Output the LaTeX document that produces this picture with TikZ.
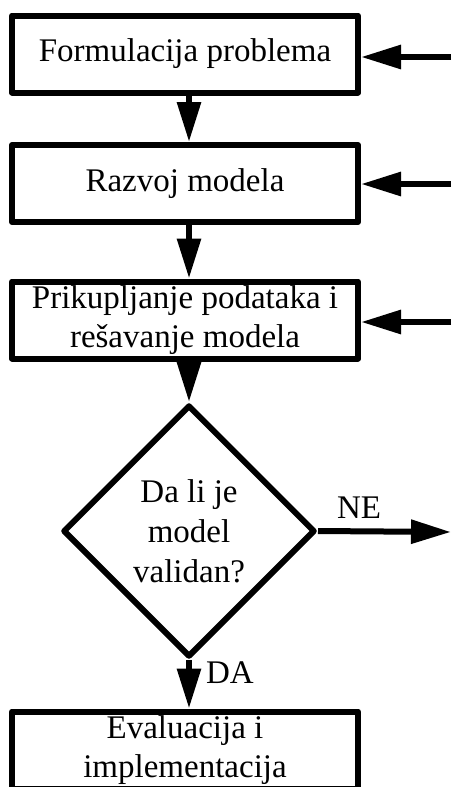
\documentclass[tikz,border=0pt]{standalone}
\usepackage{fontspec}
\setmainfont{Liberation Serif}
\usetikzlibrary{shapes.geometric,arrows.meta,calc}
\tikzset{
  box/.style={draw, line width=6pt, line join=round, minimum width=346pt,
    minimum height=77pt, inner sep=0pt, align=center,
    font=\fontsize{33}{39}\selectfont},
  decision/.style={draw, diamond, line width=6pt, line join=round,
    minimum width=252pt, minimum height=252pt, inner sep=0pt, align=center,
    font=\fontsize{33}{40}\selectfont},
  lbl/.style={inner sep=0pt, font=\fontsize{33}{39}\selectfont},
  arr/.style={line width=6pt, -{Triangle[length=40pt,width=23pt]}}
}
\begin{document}
\begin{tikzpicture}[x=1pt,y=-1pt]
    \useasboundingbox (0,0) rectangle (451,787);
    \clip (0,0) rectangle (451,787);
    \node [box] (formul) at (185,54) {Formulacija problema};
    \node [box] (razvoj) at (185,183.5) {Razvoj modela};
    \node [box] (prikup) at (185,320) {Prikupljanje podataka i\\re\v{s}avanje modela};
    \node [decision] (valid) at (189,531) {Da li je\\model\\validan?};
    \node [box] (eval) at (185,750) {Evaluacija i\\implementacija};
    \node [lbl] (ne) at (359,508) {NE};
    \node [lbl] (da) at (230,673) {DA};
    \coordinate (in1) at (451,57);
    \coordinate (in2) at (451,184);
    \coordinate (in3) at (451,322);
    \coordinate (out) at (451,532);
    \draw [arr] (formul.south -| valid.north) -- (razvoj.north -| valid.north);
    \draw [arr] (razvoj.south -| valid.north) -- (prikup.north -| valid.north);
    \draw [arr] (prikup.south -| valid.north) -- (valid.north);
    \draw [arr] (valid.south) -- (eval.north -| valid.south);
    \draw [arr] (valid.east) -- (out);
    \draw [arr] (in1) -- (in1 -| formul.east);
    \draw [arr] (in2) -- (in2 -| razvoj.east);
    \draw [arr] (in3) -- (in3 -| prikup.east);
\end{tikzpicture}
\end{document}
